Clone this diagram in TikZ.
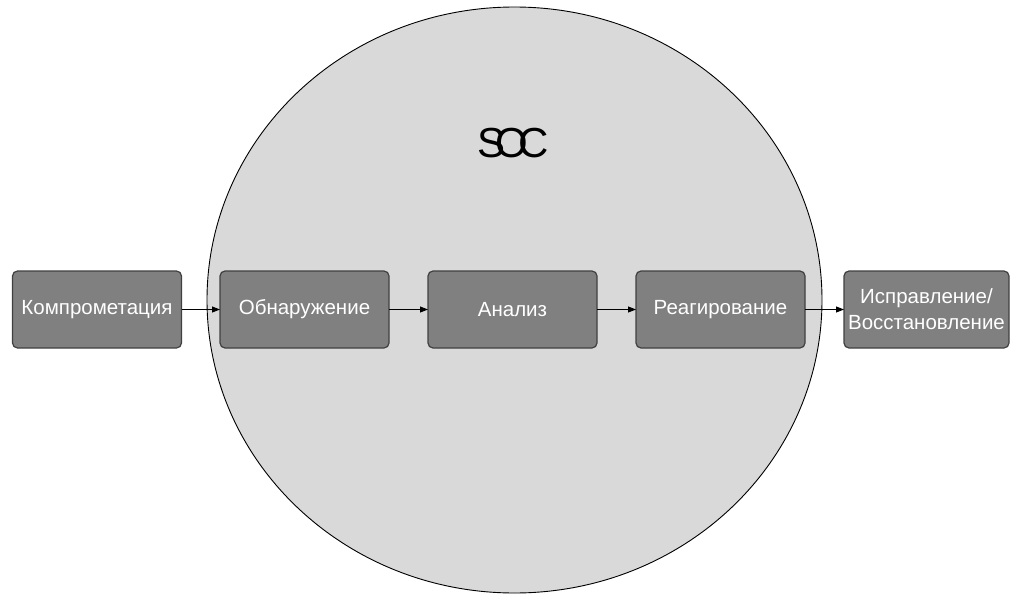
\documentclass[tikz,border=0pt]{standalone}
\usepackage{fontspec}
\setmainfont{Liberation Sans}
\usetikzlibrary{arrows.meta,shapes.geometric}
\begin{document}
\begin{tikzpicture}[x=1pt,y=-1pt,
  stagebox/.style={draw=black!75, line width=1.2pt, fill=black!50, rounded corners=5pt,
    minimum width=169pt, minimum height=77pt, inner sep=0pt, outer sep=0pt,
    text=white, font=\fontsize{20.5}{26}\selectfont, align=center},
  flow/.style={line width=0.9pt, -{Triangle[length=8pt,width=6pt]}}]
\useasboundingbox (0,0) rectangle (1010,594);
\fill[white] (0,0) rectangle (1010,594);
\node[draw=black, line width=0.9pt, fill=black!15, ellipse, inner sep=0pt,
  minimum width=615pt, minimum height=586pt] (soc) at (514.5,300) {};
\node[font=\fontsize{42}{48}\selectfont, inner sep=0pt] (soclabel) at (513,143) {S\kern-10pt O\kern-10pt C};
\node[stagebox] (b1) at (97,309.5) {Компрометация};
\node[stagebox] (b2) at (304.5,309.5) {Обнаружение};
\node[stagebox] (b3) at (512.5,309.5) {Анализ};
\node[stagebox] (b4) at (720.5,309.5) {Реагирование};
\node[stagebox, minimum width=165pt] (b5) at (926.5,309.5) {Исправление/\\Восстановление};
\draw[flow] (b1) -- (b2);
\draw[flow] (b2) -- (b3);
\draw[flow] (b3) -- (b4);
\draw[flow] (b4) -- (b5);
\end{tikzpicture}
\end{document}
